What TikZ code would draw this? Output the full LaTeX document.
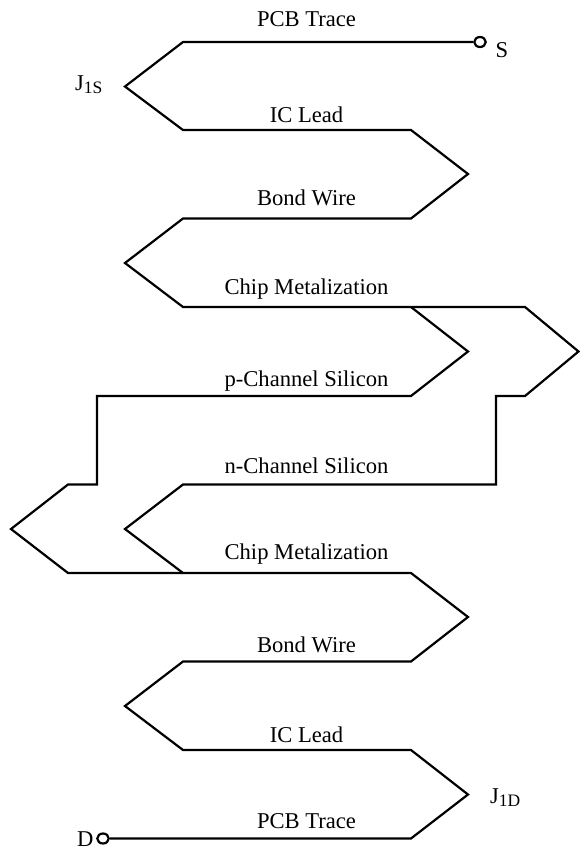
\documentclass[tikz,border=0pt]{standalone}
\usepackage{fontspec}
\setmainfont{Liberation Serif}
\usetikzlibrary{shapes.geometric}
\tikzset{
  trace/.style={draw=black,line width=2.2pt,line join=miter},
  term/.style={ellipse,draw=black,line width=2.2pt,fill=white,inner sep=0pt,minimum width=11.5pt,minimum height=10pt},
  lab/.style={font=\fontsize{22.6}{25}\selectfont,inner sep=0pt,anchor=base},
  side/.style={font=\fontsize{22.6}{25}\selectfont,inner sep=0pt,anchor=base west}
}
\newcommand{\subtxt}[1]{\raisebox{-3.5pt}{\fontsize{17.5}{19}\selectfont #1}}
\begin{document}
\begin{tikzpicture}[x=1pt,y=-1pt]
\useasboundingbox (0,0) rectangle (579,852);
% junctions
\coordinate (a1) at (183,42);
\coordinate (a2) at (125,86.5);
\coordinate (a3) at (183,130);
\coordinate (a4) at (411,130);
\coordinate (a5) at (468,174);
\coordinate (a6) at (411,218.5);
\coordinate (a7) at (183,218.5);
\coordinate (a8) at (125,263);
\coordinate (a9) at (183,307);
\coordinate (split) at (411,307);
\coordinate (p1) at (468,351.5);
\coordinate (p2) at (411,396);
\coordinate (p3) at (97,396);
\coordinate (p4) at (97,484.5);
\coordinate (p5) at (68,484.5);
\coordinate (p6) at (11,529);
\coordinate (p7) at (68,573);
\coordinate (merge) at (183,573);
\coordinate (n1) at (525,307);
\coordinate (n2) at (578.5,351.5);
\coordinate (n3) at (525,396);
\coordinate (n4) at (496,396);
\coordinate (n5) at (496,484.5);
\coordinate (n6) at (183,484.5);
\coordinate (n7) at (125,529);
\coordinate (b1) at (411,573);
\coordinate (b2) at (468,617);
\coordinate (b3) at (411,661.5);
\coordinate (b4) at (183,661.5);
\coordinate (b5) at (125,706);
\coordinate (b6) at (183,750);
\coordinate (b7) at (411,750);
\coordinate (b8) at (468,794.5);
\coordinate (b9) at (411,838.5);
% terminals
\node[term] (S) at (480,42) {};
\node[term] (D) at (103,838.5) {};
% traces
\draw[trace] (S) -- (a1) -- (a2) -- (a3) -- (a4) -- (a5) -- (a6) -- (a7) -- (a8) -- (a9) -- (split);
\draw[trace] (split) -- (p1) -- (p2) -- (p3) -- (p4) -- (p5) -- (p6) -- (p7) -- (merge);
\draw[trace] (split) -- (n1) -- (n2) -- (n3) -- (n4) -- (n5) -- (n6) -- (n7) -- (merge);
\draw[trace] (merge) -- (b1) -- (b2) -- (b3) -- (b4) -- (b5) -- (b6) -- (b7) -- (b8) -- (b9) -- (D);
% labels
\node[lab] (t1) at (306.5,26) {PCB Trace};
\node[lab] (t2) at (306.5,122) {IC Lead};
\node[lab] (t3) at (306.5,205) {Bond Wire};
\node[lab] (t4) at (306.5,294) {Chip Metalization};
\node[lab] (t5) at (306.5,386.5) {p-Channel Silicon};
\node[lab] (t6) at (306.5,473) {n-Channel Silicon};
\node[lab] (t7) at (306.5,559) {Chip Metalization};
\node[lab] (t8) at (306.5,652) {Bond Wire};
\node[lab] (t9) at (306.5,742) {IC Lead};
\node[lab] (t10) at (306.5,828) {PCB Trace};
\node[side] (lS) at (495.5,57) {S};
\node[side] (lD) at (77,846.5) {D};
\node[side] (lJS) at (75,90) {J\subtxt{1S}};
\node[side] (lJD) at (490,803) {J\subtxt{1D}};
\end{tikzpicture}
\end{document}
